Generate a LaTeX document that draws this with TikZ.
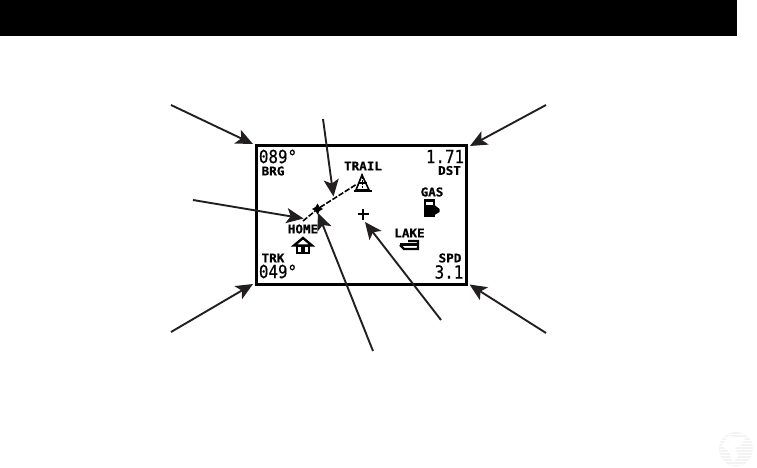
\documentclass[tikz,border=0pt]{standalone}
\usepackage{fontspec}
\newfontfamily\lcdbig[FakeBold=0.5]{DejaVu Sans Mono}
\newfontfamily\lcdsmall[FakeBold=0.5]{DejaVu Sans Mono Bold}
\usetikzlibrary{arrows.meta}
\definecolor{arrowgrey}{HTML}{231F20}
\definecolor{globegrey}{HTML}{F3F3F3}
\tikzset{
  callout/.style={draw=arrowgrey,line width=1.9pt,-{Stealth[length=17pt,width=15pt,inset=4pt]}},
  bigread/.style={font=\lcdbig\fontsize{18}{18}\selectfont,xscale=.88,inner sep=0,anchor=center},
  smallread/.style={font=\lcdsmall\fontsize{12}{12}\selectfont,xscale=1.05,inner sep=0,anchor=center},
  screen/.style={draw=black,line width=3pt,fill=white,inner sep=0,minimum width=210pt,minimum height=139pt,anchor=north west},
  track/.style={draw=black,line width=1.6pt,dash pattern=on 5.5pt off 1.8pt},
}
\begin{document}
\begin{tikzpicture}[x=1pt,y=-1pt]
\useasboundingbox (0,0) rectangle (757,468);
\fill[black] (0,0) rectangle (737,36);
% globe watermark
\begin{scope}
\clip (736,449) circle (17);
\fill[globegrey] (719,432) rectangle (753,468);
\foreach \yy in {434,437,...,467} \fill[white] (719,\yy) rectangle (753,\yy+1.2);
\fill[white] (728,436) -- (745,438) -- (742,445) -- (735,447) -- (738,456) -- (733,462) -- (729,452) -- (722,446) -- cycle;
\end{scope}
% screen
\node[screen] (lcd) at (254.5,144) {};
% readouts
\node[bigread] (brgval) at (278,156.5) {089°};
\node[smallread] (brg) at (273,171) {BRG};
\node[bigread] (dstval) at (445,156.5) {1.71};
\node[smallread] (dst) at (449.5,170.5) {DST};
\node[smallread] (trk) at (273,258) {TRK};
\node[bigread] (trkval) at (278,271.5) {049°};
\node[smallread] (spd) at (450,258) {SPD};
\node[bigread] (spdval) at (449,272) {3.1};
% map labels
\node[smallread] (trail) at (363,166) {TRAIL};
\node[smallread] (gas) at (432,192) {GAS};
\node[smallread] (home) at (303,229) {HOME};
\node[smallread] (lake) at (409.5,233) {LAKE};
% track
\coordinate (hometrack) at (303,221);
\coordinate (me) at (317.5,209);
\coordinate (trailtrack) at (357,184);
\draw[track] (hometrack) -- (me) -- (trailtrack);
\fill (317.5,203.5) -- (319.5,207) -- (323,209) -- (319.5,211) -- (317.5,214.5) -- (315.5,211) -- (312,209) -- (315.5,207) -- cycle;
% cursor
\coordinate (cursor) at (363,214);
\draw[line width=2pt] (357.5,214) -- (368.5,214) (363,208.5) -- (363,219.5);
% tent icon
\draw[line width=1.6pt,line join=miter] (362,175) -- (356,190) -- (369,190) -- cycle;
\draw[line width=1.2pt,dash pattern=on 2pt off 1pt] (362.5,174) -- (362.5,189);
\draw[line width=2.2pt] (353.5,191) -- (372,191);
\draw[line width=1.2pt] (358,183) -- (367,183);
% gas pump
\fill (424,199) rectangle (434.5,216.5);
\fill[white] (426,201.5) rectangle (432.5,205);
\fill (434.5,205) -- (439.5,209) -- (439.5,212) -- (434.5,215) -- cycle;
% boat
\draw[line width=2.4pt] (400,244.5) -- (417,244.5);
\draw[line width=2.2pt] (400,245) -- (404,249) -- (418,249) -- (418,241) -- (408,241);
% house
\draw[line width=2.4pt,line join=miter] (294,245.5) -- (303,238) -- (312,245.5) -- cycle;
\draw[line width=2pt] (297,245.5) rectangle (309,252.5);
\fill (301,247) rectangle (305,252.5);
% arrow ends
\coordinate (a1) at (171,105);
\coordinate (b1) at (253,144);
\coordinate (a2) at (323,119);
\coordinate (b2) at (333.5,196.5);
\coordinate (a3) at (546,105);
\coordinate (b3) at (470,146);
\coordinate (a4) at (193,200);
\coordinate (b4) at (303.5,218.5);
\coordinate (a5) at (171,332);
\coordinate (b5) at (253,284);
\coordinate (a6) at (546,333);
\coordinate (b6) at (469.5,284.5);
\coordinate (a7) at (373,351);
\coordinate (b7) at (318,213);
\coordinate (a8) at (441,320);
\coordinate (b8) at (365,222);
\foreach \i in {1,...,8} \draw[callout] (a\i) -- (b\i);
\end{tikzpicture}
\end{document}
